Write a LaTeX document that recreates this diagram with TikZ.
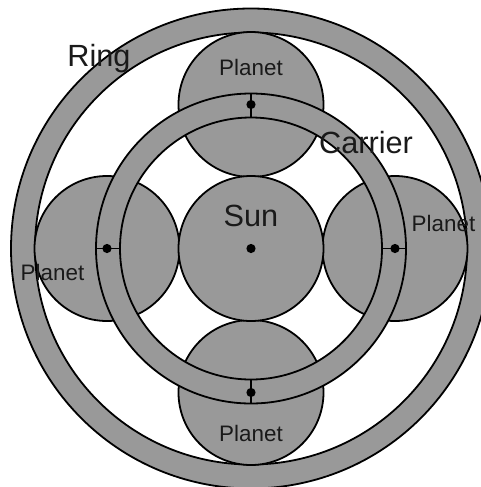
\documentclass[tikz,border=0pt]{standalone}
\usepackage{fontspec}
\setmainfont{Liberation Sans}
\definecolor{gearfill}{HTML}{999999}
\definecolor{inktext}{HTML}{1A1A1A}
\tikzset{
  gearbody/.style={fill=gearfill,draw=black,line width=1.35pt},
  gearband/.style={fill=gearfill,draw=black,line width=1.35pt,even odd rule},
  tickline/.style={draw=black,line width=1.35pt},
  pivot/.style={fill=black,draw=none},
  smalllabel/.style={text=inktext,font=\fontsize{16.8pt}{18pt}\selectfont,inner sep=0pt},
  biglabel/.style={text=inktext,font=\fontsize{23pt}{25pt}\selectfont,inner sep=0pt}
}
\begin{document}
\begin{tikzpicture}[x=0.75pt,y=-0.75pt]
\path[use as bounding box,fill=white] (0,0) rectangle (481,487);
\begin{scope}
\clip (0,0) rectangle (481,487);
\coordinate (c) at (251,248.5);
% ring
\path[gearband] (c) circle (240) (c) circle (216);
% planets and sun
\path[gearbody] (251,104.5) circle (72.5);
\path[gearbody] (251,392.5) circle (72.5);
\path[gearbody] (107,248.5) circle (72.5);
\path[gearbody] (395,248.5) circle (72.5);
\path[gearbody] (c) circle (72.5);
% carrier
\path[gearband] (c) circle (155) (c) circle (131);
% carrier ticks
\coordinate (tA) at (251,93.5);   \coordinate (tB) at (251,117.5);
\coordinate (bA) at (251,379.5);  \coordinate (bB) at (251,403.5);
\coordinate (lA) at (96,248.5);   \coordinate (lB) at (120,248.5);
\coordinate (rA) at (382,248.5);  \coordinate (rB) at (406,248.5);
\draw[tickline] (tA) -- (tB);
\draw[tickline] (bA) -- (bB);
\draw[tickline] (lA) -- (lB);
\draw[tickline] (rA) -- (rB);
% pivots
\path[pivot] (251,104.5) circle (4.6);
\path[pivot] (251,392.5) circle (4.6);
\path[pivot] (107,248.5) circle (4.6);
\path[pivot] (395,248.5) circle (4.6);
\path[pivot] (c) circle (4.6);
\end{scope}
% labels
\node[smalllabel] (ptop) at (251,67) {Planet};
\node[smalllabel] (pbot) at (251,433) {Planet};
\node[smalllabel] (pleft) at (52.5,272.5) {Planet};
\node[smalllabel] (pright) at (443.5,223) {Planet};
\node[biglabel] (sun) at (251,216) {Sun};
\node[biglabel] (ring) at (99,59) {Ring};
\node[biglabel] (carrier) at (366,143) {Carrier};
\end{tikzpicture}
\end{document}
